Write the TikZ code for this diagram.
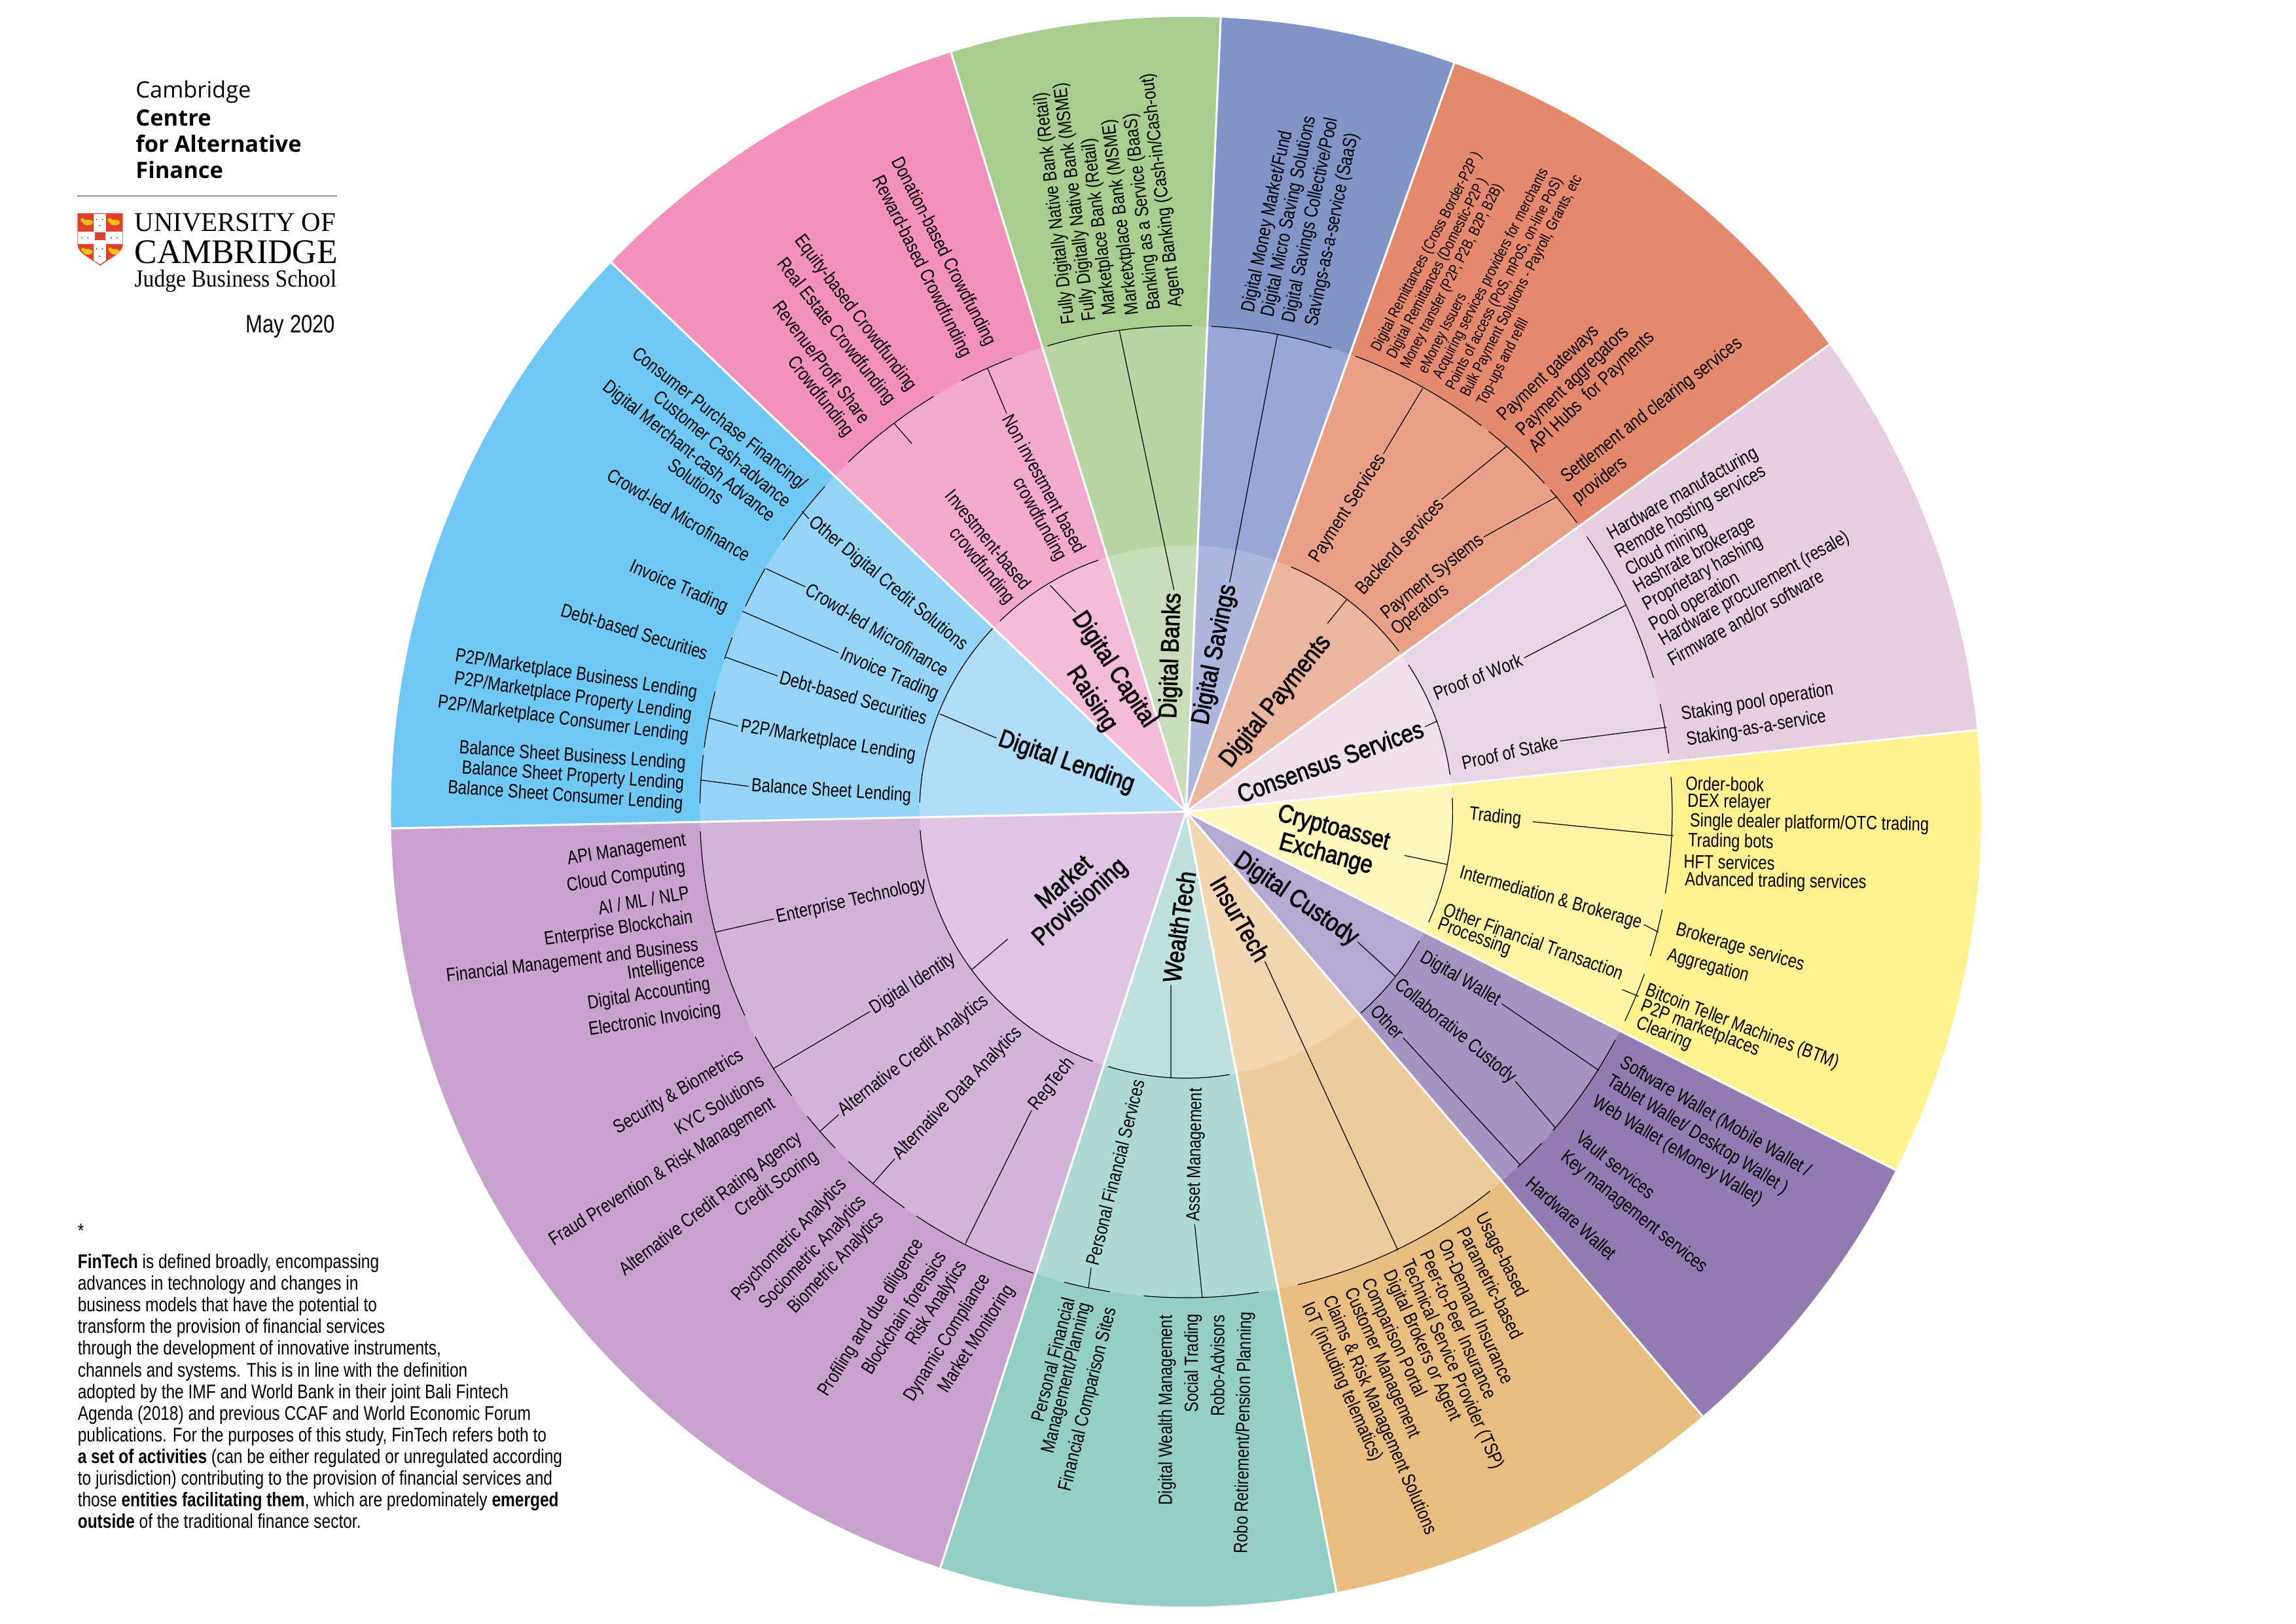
\documentclass[tikz,border=0pt]{standalone}
\usepackage{fontspec}
\setmainfont{Liberation Sans}[FakeStretch=0.81]
\newfontfamily\headfont{Liberation Sans}[FakeStretch=0.85,FakeBold=2]
\newfontfamily\logosans{Open Sans}
\newfontfamily\logoserifa{Liberation Serif}[FakeStretch=0.985]
\newfontfamily\logoserifb{Liberation Serif}[FakeStretch=0.98]
\newfontfamily\logoserifc{Liberation Serif}[FakeStretch=0.895]
\newcommand{\ptsize}[2]{\fontsize{#1}{#2}\selectfont}

% Farben der Ringe: aussen, Mitte, innen
\definecolor{capOut}{HTML}{F291BC}\definecolor{capMid}{HTML}{F3A8CE}\definecolor{capIn}{HTML}{F5BBDB}
\definecolor{bankOut}{HTML}{A9CC8F}\definecolor{bankMid}{HTML}{B9D5A3}\definecolor{bankIn}{HTML}{C9DDBA}
\definecolor{savOut}{HTML}{8193C7}\definecolor{savMid}{HTML}{99A7D6}\definecolor{savIn}{HTML}{AEB6DD}
\definecolor{payOut}{HTML}{E5896E}\definecolor{payMid}{HTML}{E9A086}\definecolor{payIn}{HTML}{EDB49E}
\definecolor{consOut}{HTML}{E6CDE0}\definecolor{consMid}{HTML}{E9D5E6}\definecolor{consIn}{HTML}{EFE0EC}
\definecolor{cryOut}{HTML}{FFF28F}\definecolor{cryMid}{HTML}{FFF4A3}\definecolor{cryIn}{HTML}{FFF7BC}
\definecolor{cusOut}{HTML}{917BB1}\definecolor{cusMid}{HTML}{A594C1}\definecolor{cusIn}{HTML}{B6A9D1}
\definecolor{insOut}{HTML}{E9BD80}\definecolor{insMid}{HTML}{EDCA9A}\definecolor{insIn}{HTML}{F2D6B0}
\definecolor{wealOut}{HTML}{95CEC7}\definecolor{wealMid}{HTML}{ACD9D3}\definecolor{wealIn}{HTML}{BFE1DE}
\definecolor{markOut}{HTML}{C8A3CD}\definecolor{markMid}{HTML}{D2B4D8}\definecolor{markIn}{HTML}{DEC5E3}
\definecolor{lendOut}{HTML}{70C8F4}\definecolor{lendMid}{HTML}{94D4F7}\definecolor{lendIn}{HTML}{AFDDF8}
\definecolor{crestRed}{HTML}{E2402B}\definecolor{crestGold}{HTML}{F2C21B}

\tikzset{
	lab/.style={font=\ptsize{8.3}{9.4}, inner sep=1pt},
	labsm/.style={font=\ptsize{6.65}{8}, inner sep=1pt},
	head/.style={font=\headfont\ptsize{11}{12}, inner sep=1pt},
	leader/.style={line width=0.35pt, black},
	spoke/.style={line width=0.9pt, white},
	logoline/.style={anchor=west, inner sep=0pt}
}

% wedge: von Winkel #1 bis #2, Radius #3, Farbe #4
\newcommand{\wedgefill}[4]{\fill[#4] (C) -- ([shift={({-(#1)}:#3)}]C) arc[start angle={-(#1)},end angle={-(#2)},radius=#3] -- cycle;}
\newcommand{\ringwedge}[5]{\wedgefill{#1}{#2}{543}{#3}\wedgefill{#1}{#2}{332}{#4}\wedgefill{#1}{#2}{182}{#5}}
\newcommand{\spokeline}[1]{\draw[spoke] (C) -- ([shift={({-(#1)}:543)}]C);}
\newcommand{\bracket}[3]{\draw[leader] ([shift={({-(#2)}:#1)}]C) arc[start angle={-(#2)},end angle={-(#3)},radius=#1];}

\begin{document}
\begin{tikzpicture}[x=0.22372mm, y=-0.22372mm]
	\useasboundingbox (0,0) rectangle (1568,1109);
	\coordinate (C) at (810,554.5);

	% --- 1. Ringe ---
	\ringwedge{252}{181.2}{markOut}{markMid}{markIn}
	\ringwedge{181.2}{136.3}{lendOut}{lendMid}{lendIn}
	\ringwedge{136.3}{107.2}{capOut}{capMid}{capIn}
	\ringwedge{107.2}{87.5}{bankOut}{bankMid}{bankIn}
	\ringwedge{87.5}{70.3}{savOut}{savMid}{savIn}
	\ringwedge{70.3}{36}{payOut}{payMid}{payIn}
	\ringwedge{36}{5.9}{consOut}{consMid}{consIn}
	\ringwedge{5.9}{-26.8}{cryOut}{cryMid}{cryIn}
	\ringwedge{-26.8}{-49.5}{cusOut}{cusMid}{cusIn}
	\ringwedge{-49.5}{-79.1}{insOut}{insMid}{insIn}
	\ringwedge{-79.1}{-108}{wealOut}{wealMid}{wealIn}

	\spokeline{252}\spokeline{181.2}\spokeline{136.3}\spokeline{107.2}
	\spokeline{87.5}\spokeline{70.3}\spokeline{36}\spokeline{5.9}
	\spokeline{-26.8}\spokeline{-49.5}\spokeline{-79.1}

	% --- 2. Boegen an den Ringgrenzen ---
	\bracket{182}{134.3}{109.2}
	\bracket{182}{66.8}{37}
	\bracket{182}{33.5}{8}
	\bracket{182}{3}{-24.5}
	\bracket{182}{-29}{-49}
	\bracket{182}{-80.6}{-107}
	\bracket{182}{249.5}{184}
	\bracket{182}{178}{136.5}

	\bracket{332}{134}{121.3}
	\bracket{332}{117.5}{111}
	\bracket{332}{106.6}{89.3}
	\bracket{332}{87}{72.6}
	\bracket{332}{69.6}{52.6}
	\bracket{332}{51.5}{42.5}
	\bracket{332}{41.5}{36.5}
	\bracket{332}{34.5}{16}
	\bracket{332}{12.8}{6.9}
	\bracket{332}{4.1}{-9.7}
	\bracket{332}{-11.6}{-17.3}
	\bracket{332}{-19.5}{-25.5}
	\bracket{332}{-28}{-41}
	\bracket{332}{-43}{-47}
	\bracket{332}{-51.3}{-76.7}
	\bracket{332}{-81.4}{-95}
	\bracket{332}{-99}{-104.5}
	\bracket{332}{251.7}{236.3}
	\bracket{332}{234.6}{226}
	\bracket{332}{223.8}{218.8}
	\bracket{332}{215.8}{207.6}
	\bracket{332}{204.8}{182.3}
	\bracket{332}{179}{173.3}
	\bracket{332}{172.4}{165.7}
	\bracket{332}{161.7}{159}
	\bracket{332}{155}{150}
	\bracket{332}{146}{138}

	% --- 3. Innerer Ring ---
	\node[head,rotate=-56.5] (capA) at (760.6,457.6) {Digital Capital};
	\node[head,rotate=-56.5] (capB) at (745.3,477.5) {Raising};
	\node[head,rotate=88] (bankHead) at (800.2,447.9) {Digital Banks};
	\node[head,rotate=78.7] (savHead) at (829.9,447.2) {Digital Savings};
	\node[head,rotate=51.3] (payHead) at (871.4,479.2) {Digital Payments};
	\node[head,rotate=20] (consHead) at (908.4,520) {Consensus Services};
	\node[head,rotate=-15] (cryA) at (910.6,566.3) {Cryptoasset};
	\node[head,rotate=-15] (cryB) at (905.4,584) {Exchange};
	\node[head,rotate=-34.6] (cusHead) at (885,614.4) {Digital Custody};
	\node[head,rotate=-60] (insHead) at (847,627.6) {InsurTech};
	\node[head,rotate=82] (wealHead) at (805.2,633.1) {WealthTech};
	\node[head,rotate=41.5] (markA) at (726,602) {Market};
	\node[head,rotate=42] (markB) at (737.9,616.7) {Provisioning};
	\node[head,rotate=-19.3] (lendHead) at (728.2,520.9) {Digital Lending};

	% --- 4. Mittlerer Ring ---
	\node[lab,rotate=-61.5] (capM1) at (713.4,330.4) {Non investment based};
	\node[lab,rotate=-61] (capM2) at (709.7,355) {crowdfunding};
	\node[lab,rotate=-50.6] (capM3) at (675.2,368.7) {Investment-based};
	\node[lab,rotate=-51] (capM4) at (670.4,386.8) {crowdfunding};
	\node[lab,rotate=57.3] (payM1) at (920.7,347.4) {Payment Services};
	\node[lab,rotate=47.7] (payM2) at (955.6,373) {Backend services};
	\node[lab,rotate=38.5] (payM3) at (978.6,394.4) {Payment Systems};
	\node[lab,rotate=40] (payM4) at (970.4,416.9) {Operators};
	\node[lab,rotate=22] (consM1) at (1009.2,462.2) {Proof of Work};
	\node[lab,rotate=12.7] (consM2) at (1031.1,513.9) {Proof of Stake};
	\node[lab,rotate=-6] (cryM1) at (1021.1,558.4) {Trading};
	\node[lab,rotate=-15.7] (cryM2) at (1058.9,613.7) {Intermediation \& Brokerage};
	\node[lab,rotate=-20] (cryM3) at (1047.4,642.9) {Other Financial Transaction};
	\node[lab,rotate=-20] (cryM4) at (1007,640.4) {Processing};
	\node[lab,rotate=-30.7] (cusM1) at (997.4,668.9) {Digital Wallet};
	\node[lab,rotate=-39.7] (cusM2) at (993.7,704.5) {Collaborative Custody};
	\node[lab,rotate=-46] (cusM3) at (947.7,698) {Other};
	\node[lab,rotate=89] (wealM1) at (816.7,788.9) {Asset Management};
	\node[lab,rotate=75.8] (wealM2) at (761.6,801) {Personal Financial Services};
	\node[lab,rotate=12.9] (markM1) at (581.4,615.6) {Enterprise Technology};
	\node[lab,rotate=32.6] (markM2) at (623.7,672.1) {Digital Identity};
	\node[lab,rotate=38] (markM3) at (624,721.4) {Alternative Credit Analytics};
	\node[lab,rotate=46] (markM4) at (654.1,747) {Alternative Data Analytics};
	\node[lab,rotate=51.6] (markM5) at (718.6,740.7) {RegTech};
	\node[lab,rotate=-39.5] (lendM1) at (606.3,398.8) {Other Digital Credit Solutions};
	\node[lab,rotate=-30.9] (lendM2) at (599.2,430.3) {Crowd-led Microfinance};
	\node[lab,rotate=-23.3] (lendM3) at (607.4,461) {Invoice Trading};
	\node[lab,rotate=-15.8] (lendM4) at (582.9,476.4) {Debt-based Securities};
	\node[lab,rotate=-9.6] (lendM5) at (565.5,506.5) {P2P/Marketplace Lending};
	\node[lab,rotate=-3.6] (lendM6) at (567.7,540.7) {Balance Sheet Lending};

	% --- 5. Aeusserer Ring ---
	% Digital Capital Raising
	\node[lab,rotate=-63] (capO1) at (644.1,172) {Donation-based Crowdfunding};
	\node[lab,rotate=-63.5] (capO2) at (629.3,182.2) {Reward-based Crowdfunding};
	\node[lab,rotate=-53] (capO3) at (584,214) {Equity-based Crowdfunding};
	\node[lab,rotate=-52] (capO4) at (570.7,226.7) {Real Estate Crowdfunding};
	\node[lab,rotate=-53] (capO5) at (561.4,247.2) {Revenue/Profit Share};
	\node[lab,rotate=-52] (capO6) at (560,271.2) {Crowdfunding};
	% Digital Banks
	\node[lab,rotate=97] (bankO1) at (720.7,142.3) {Fully Digitally Native Bank (Retail)};
	\node[lab,rotate=97] (bankO2) at (734.6,137.8) {Fully Digitally Native Bank (MSME)};
	\node[lab,rotate=97] (bankO3) at (751.2,155) {Marketplace Bank (Retail)};
	\node[lab,rotate=97] (bankO4) at (765.8,148.3) {Marketxtplace Bank (MSME)};
	\node[lab,rotate=97] (bankO5) at (780.7,144.8) {Banking as a Service (BaaS)};
	\node[lab,rotate=97] (bankO6) at (793.7,130) {Agent Banking (Cash-in/Cash-out)};
	% Digital Savings
	\node[lab,rotate=78] (savO1) at (865.9,151.4) {Digital Money Market/Fund};
	\node[lab,rotate=78] (savO2) at (880.7,147.9) {Digital Micro Saving Solutions};
	\node[lab,rotate=78] (savO3) at (895.5,150.4) {Digital Savings Collective/Pool};
	\node[lab,rotate=78] (savO4) at (910.3,156.8) {Savings-as-a-service (SaaS)};
	% Digital Payments
	\node[labsm,rotate=62.7] (payO1) at (974.5,172.1) {Digital Remittances (Cross Border-P2P )};
	\node[labsm,rotate=62.7] (payO2) at (981.9,183.3) {Digital Remittances (Domestic-P2P )};
	\node[labsm,rotate=62.7] (payO3) at (991.9,188.8) {Money transfer (P2P, P2B, B2P, B2B)};
	\node[labsm,rotate=62.7] (payO4) at (985.7,228) {eMoney Issuers};
	\node[labsm,rotate=62.7] (payO5) at (1018.4,187) {Acquiring services providers for merchants};
	\node[labsm,rotate=62.7] (payO6) at (1027.7,194) {Points of access (PoS, mPoS, on-line PoS)};
	\node[labsm,rotate=62.7] (payO7) at (1039.3,195.5) {Bulk Payment Solutions - Payroll, Grants, etc};
	\node[labsm,rotate=62.7] (payO8) at (1026.6,247.3) {Top-ups and refill};
	\node[lab,rotate=43] (payO9) at (1057.9,255.5) {Payment gateways};
	\node[lab,rotate=44] (payO10) at (1074.6,260.8) {Payment aggregators};
	\node[lab,rotate=44] (payO11) at (1087.5,267.9) {API Hubs\ \ for Payments};
	\node[lab,rotate=38] (payO12) at (1128.3,280.4) {Settlement and clearing services};
	\node[lab,rotate=38] (payO13) at (1093,328.5) {providers};
	% Consensus Services
	\node[lab,rotate=29.4] (consO1) at (1149.4,337.5) {Hardware manufacturing};
	\node[lab,rotate=29.4] (consO2) at (1154.9,350) {Remote hosting services};
	\node[lab,rotate=29.4] (consO3) at (1138.2,375.6) {Cloud mining};
	\node[lab,rotate=29.4] (consO4) at (1157.5,379.2) {Hashrate brokerage};
	\node[lab,rotate=29.4] (consO5) at (1163.1,391.7) {Proprietary hashing};
	\node[lab,rotate=29.4] (consO6) at (1157.5,411.3) {Pool operation};
	\node[lab,rotate=29.4] (consO7) at (1198.3,402.4) {Hardware procurement (resale)};
	\node[lab,rotate=29.4] (consO8) at (1192,422) {Firmware and/or software};
	\node[lab,rotate=9.6] (consO9) at (1200.1,480) {Staking pool operation};
	\node[lab,rotate=9.6] (consO10) at (1199.4,497.8) {Staking-as-a-service};
	% Cryptoasset Exchange
	\node[lab,rotate=-1] (cryO1) at (1177.9,535.6) {Order-book};
	\node[lab,rotate=-1] (cryO2) at (1180.9,548.4) {DEX relayer};
	\node[lab,rotate=-1] (cryO3) at (1235.7,562.7) {Single dealer platform/OTC trading};
	\node[lab,rotate=-1] (cryO4) at (1182,575.5) {Trading bots};
	\node[lab,rotate=-1] (cryO5) at (1180.9,589) {HFT services};
	\node[lab,rotate=-1] (cryO6) at (1212.7,602.6) {Advanced trading services};
	\node[lab,rotate=-15.7] (cryO7) at (1188.3,647.5) {Brokerage services};
	\node[lab,rotate=-15] (cryO8) at (1166.4,660) {Aggregation};
	\node[lab,rotate=-21] (cryO9) at (1189.7,701.7) {Bitcoin Teller Machines (BTM)};
	\node[lab,rotate=-21] (cryO10) at (1161.2,702.7) {P2P marketplaces};
	\node[lab,rotate=-22] (cryO11) at (1136.4,706.3) {Clearing};
	% Digital Custody
	\node[lab,rotate=-30.5] (cusO1) at (1171.4,763.4) {Software Wallet (Mobile Wallet /};
	\node[lab,rotate=-31.7] (cusO2) at (1159.2,775.4) {Tablet Wallet/ Desktop Wallet )};
	\node[lab,rotate=-31] (cusO3) at (1145.5,786.4) {Web Wallet (eMoney Wallet)};
	\node[lab,rotate=-39] (cusO4) at (1103.6,795.5) {Vault services};
	\node[lab,rotate=-38.8] (cusO5) at (1115.8,828.3) {Key management services};
	\node[lab,rotate=-41.9] (cusO6) at (1073.2,832) {Hardware Wallet};
	% InsurTech
	\node[lab,rotate=-63] (insO1) at (1025,857.5) {Usage-based};
	\node[lab,rotate=-63] (insO2) at (1018,876.5) {Parametric-based};
	\node[lab,rotate=-65.7] (insO3) at (1008.3,895.8) {On-Demand Insurance};
	\node[lab,rotate=-65.7] (insO4) at (996.1,905) {Peer-to-Peer Insurance};
	\node[lab,rotate=-66] (insO5) at (991.6,932.3) {Technical Service Provider (TSP)};
	\node[lab,rotate=-65.5] (insO6) at (970.9,919.5) {Digital Brokers or Agent};
	\node[lab,rotate=-65] (insO7) at (951.6,914.1) {Comparison Portal};
	\node[lab,rotate=-66] (insO8) at (943.5,931.2) {Customer Management};
	\node[lab,rotate=-66.4] (insO9) at (942,967) {Claims \& Risk Management Solutions};
	\node[lab,rotate=-66] (insO10) at (916.4,944) {IoT (including telematics)};
	% WealthTech
	\node[lab,rotate=75.6] (wealO1) at (719,928.7) {Personal Financial};
	\node[lab,rotate=76] (wealO2) at (729,941.4) {Management/Planning};
	\node[lab,rotate=76] (wealO3) at (743.4,956) {Financial Comparison Sites};
	\node[lab,rotate=90] (wealO4) at (797,963.3) {Digital Wealth Management};
	\node[lab,rotate=90] (wealO5) at (814.8,931.2) {Social Trading};
	\node[lab,rotate=90] (wealO6) at (831.5,933) {Robo-Advisors};
	\node[lab,rotate=89] (wealO7) at (849.7,978.7) {Robo Retirement/Pension Planning};
	% Market Provisioning
	\node[lab,rotate=9] (markO1) at (428,581) {API Management};
	\node[lab,rotate=9] (markO2) at (427.6,599.2) {Cloud Computing};
	\node[lab,rotate=10] (markO3) at (439.5,614.9) {AI / ML / NLP};
	\node[lab,rotate=8.5] (markO4) at (422.4,634.9) {Enterprise Blockchain};
	\node[lab,rotate=7.1] (markO5) at (390.9,656.8) {Financial Management and Business};
	\node[lab,rotate=9] (markO6) at (455,661.2) {Intelligence};
	\node[lab,rotate=9] (markO7) at (443.2,679.4) {Digital Accounting};
	\node[lab,rotate=9] (markO8) at (447.2,697) {Electronic Invoicing};
	\node[lab,rotate=31] (markO9) at (463.6,746.2) {Security \& Biometrics};
	\node[lab,rotate=31] (markO10) at (491,754.2) {KYC Solutions};
	\node[lab,rotate=32] (markO11) at (452.4,801) {Fraud Prevention \& Risk Management};
	\node[lab,rotate=37.4] (markO12) at (485.8,822.8) {Alternative Credit Rating Agency};
	\node[lab,rotate=36.5] (markO13) at (530.7,809) {Credit Scoring};
	\node[lab,rotate=47] (markO14) at (539.2,847.3) {Psychometric Analytics};
	\node[lab,rotate=47] (markO15) at (555.5,855.7) {Sociometric Analytics};
	\node[lab,rotate=47] (markO16) at (571.4,863) {Biometric Analytics};
	\node[lab,rotate=58] (markO17) at (595.2,900.2) {Profiling and due diligence};
	\node[lab,rotate=57.6] (markO18) at (617,896.6) {Blockchain forensics};
	\node[lab,rotate=57] (markO19) at (640,890.4) {Risk Analytics};
	\node[lab,rotate=58] (markO20) at (647.4,914.1) {Dynamic Compliance};
	\node[lab,rotate=57] (markO21) at (667.1,914.8) {Market Monitoring};
	% Digital Lending
	\node[lab,rotate=-38.4] (lendO1) at (491,286.6) {Consumer Purchase Financing/};
	\node[lab,rotate=-39.6] (lendO2) at (493.6,306.4) {Customer Cash-advance};
	\node[lab,rotate=-38.5] (lendO3) at (470.2,308.8) {Digital Merchant-cash Advance};
	\node[lab,rotate=-36] (lendO4) at (475.4,328.6) {Solutions};
	\node[lab,rotate=-30.7] (lendO5) at (463.6,351.6) {Crowd-led Microfinance};
	\node[lab,rotate=-23.5] (lendO6) at (463.6,401.2) {Invoice Trading};
	\node[lab,rotate=-16.8] (lendO7) at (433.5,431.3) {Debt-based Securities};
	\node[lab,rotate=-8.7] (lendO8) at (393.5,461) {P2P/Marketplace Business Lending};
	\node[lab,rotate=-8.7] (lendO9) at (391.3,476.4) {P2P/Marketplace Property Lending};
	\node[lab,rotate=-7.7] (lendO10) at (384.6,491.8) {P2P/Marketplace Consumer Lending};
	\node[lab,rotate=-4] (lendO11) at (390.9,516.8) {Balance Sheet Business Lending};
	\node[lab,rotate=-4] (lendO12) at (391.3,530.5) {Balance Sheet Property Lending};
	\node[lab,rotate=-4] (lendO13) at (386.1,544.2) {Balance Sheet Consumer Lending};

	% --- 6. Fuehrungslinien ---
	\coordinate (capS1) at (622.6,303);
	\coordinate (capE1) at (610.7,289.3);
	\coordinate (cryS1) at (959.2,584.4);
	\coordinate (cryE1) at (988.1,590.5);
	\coordinate (cryS2) at (1046.7,561.3);
	\coordinate (cryE2) at (1142.7,570.9);
	\coordinate (cryS3) at (1107.8,676);
	\coordinate (cryE3) at (1119,680.6);
	\coordinate (markS1) at (688.2,641.5);
	\coordinate (markE1) at (663.7,662.3);
	\coordinate (payS1) at (906.6,425.8);
	\coordinate (payE1) at (919.6,409.7);

	\draw[leader] (capA.west) -- (717.1,399.8);
	\draw[leader] (capM1.west) -- (674.5,251.7);
	\draw[leader] (capS1) -- (capE1);
	\draw[leader] (bankHead.east) -- (764.3,225.2);
	\draw[leader] (savHead.east) -- (872.5,228);
	\draw[leader] (payS1) -- (payE1);
	\draw[leader] (payM1.east) -- (971.5,265.4);
	\draw[leader] (payM2.east) -- (1029.3,304.6);
	\draw[leader] (payM3.east) -- (1063.4,339.2);
	\draw[leader] (consHead.east) -- (981.8,492.5);
	\draw[leader] (consM1.east) -- (1110.4,413.4);
	\draw[leader] (consM2.east) -- (1138.2,496.8);
	\draw[leader] (cryS1) -- (cryE1);
	\draw[leader] (cryS2) -- (cryE2);
	\draw[leader] (cryM2.east) -- (1132.7,636.8);
	\draw[leader] (cryS3) -- (cryE3);
	\draw[leader] (cusHead.east) -- (952.9,667);
	\draw[leader] (cusM1.east) -- (1091.9,731.2);
	\draw[leader] (cusM2.east) -- (1062.2,770.4);
	\draw[leader] (cusM3.east) -- (1038,795.5);
	\draw[leader] (insHead.east) -- (954.6,853.9);
	\draw[leader] (wealHead.west) -- (799.6,736.4);
	\draw[leader] (wealM1.west) -- (821.1,886.7);
	\draw[leader] (wealM2.west) -- (743.4,879.4);
	\draw[leader] (markS1) -- (markE1);
	\draw[leader] (markM1.west) -- (488.8,636.7);
	\draw[leader] (markM2.west) -- (528.4,729.8);
	\draw[leader] (markM3.west) -- (560.3,772.5);
	\draw[leader] (markM4.west) -- (596.3,808.3);
	\draw[leader] (markM5.west) -- (659.3,849.5);
	\draw[leader] (lendHead.west) -- (641.9,487.7);
	\draw[leader] (lendM1.west) -- (547.7,349.2);
	\draw[leader] (lendM2.west) -- (523.2,388.5);
	\draw[leader] (lendM3.west) -- (507,417.6);
	\draw[leader] (lendM4.west) -- (495.8,449);
	\draw[leader] (lendM5.west) -- (484.3,490.5);
	\draw[leader] (lendM6.west) -- (478.8,532.9);

	% --- 7. Logo ---
	\node[logoline,font=\logosans\ptsize{9.8}{11}] (logoA) at (92.4,62.8) {Cambridge};
	\node[logoline,font=\logosans\bfseries\ptsize{9.8}{11}] (logoB) at (92.4,80.4) {Centre};
	\node[logoline,font=\logosans\bfseries\ptsize{9.8}{11}] (logoC) at (92.4,98.3) {for Alternative};
	\node[logoline,font=\logosans\bfseries\ptsize{9.8}{11}] (logoD) at (92.4,116.2) {Finance};
	\draw[line width=0.4pt, black!80] (52.9,133.8) -- (230.2,133.8);

	\fill[crestRed] (52.9,145.7) -- (83.9,145.7) -- (83.9,167) .. controls (83.9,173) and (74,177) .. (68.4,181.5) .. controls (62.8,177) and (52.9,173) .. (52.9,167) -- cycle;
	\fill[white] (64,146.2) -- (72.3,146.2) -- (72.3,177.8) -- (68.4,180.6) -- (64,177.8) -- cycle;
	\fill[white] (53.3,158.2) rectangle (83.5,166.9);
	\fill[crestRed] (64.8,158.7) rectangle (71.8,164.2);
	\fill[crestGold] (60,152) ellipse [x radius=3.4, y radius=2];
	\fill[crestGold] (56.5,150.5) circle [radius=1.5];
	\fill[crestGold] (78.5,152) ellipse [x radius=3.4, y radius=2];
	\fill[crestGold] (75,150.5) circle [radius=1.5];
	\fill[crestGold] (60,172) ellipse [x radius=3.2, y radius=1.9];
	\fill[crestGold] (56.8,170.5) circle [radius=1.4];
	\fill[crestGold] (78.5,172) ellipse [x radius=3.2, y radius=1.9];
	\fill[crestGold] (75.3,170.5) circle [radius=1.4];
	\fill[black] (66,150) circle [radius=0.4];
	\fill[black] (70,150) circle [radius=0.4];
	\fill[black] (68,154) circle [radius=0.4];
	\fill[black] (56,162.5) circle [radius=0.4];
	\fill[black] (60,162.5) circle [radius=0.4];
	\fill[black] (76,162.5) circle [radius=0.4];
	\fill[black] (80,162.5) circle [radius=0.4];
	\fill[black] (66,170) circle [radius=0.4];
	\fill[black] (70,170) circle [radius=0.4];
	\fill[black] (68,175) circle [radius=0.4];

	\node[logoline,font=\logoserifa\ptsize{11.8}{12}] (logoE) at (91.6,152) {UNIVERSITY OF};
	\node[logoline,font=\logoserifb\ptsize{15}{16}] (logoF) at (91.6,172) {CAMBRIDGE};
	\node[logoline,font=\logoserifc\ptsize{10.7}{12}] (logoG) at (91.6,192.2) {Judge Business School};
	\node[anchor=east,inner sep=0pt,font=\ptsize{10.9}{12}] (dateLabel) at (229.2,223.2) {May 2020};

	% --- 8. Fussnote ---
	\node[logoline,font=\ptsize{8.6}{9.4}] (star) at (52.8,840.6) {*};
	\node[anchor=north west,inner sep=0pt,align=left,font=\ptsize{8.6}{9.4}] (note) at (52.8,856.5) {%
		\textbf{FinTech} is defined broadly, encompassing\\
		advances in technology and changes in\\
		business models that have the potential to\\
		transform the provision of financial services\\
		through the development of innovative instruments,\\
		channels and systems. This is in line with the definition\\
		adopted by the IMF and World Bank in their joint Bali Fintech\\
		Agenda (2018) and previous CCAF and World Economic Forum\\
		publications. For the purposes of this study, FinTech refers both to\\
		\textbf{a set of activities} (can be either regulated or unregulated according\\
		to jurisdiction) contributing to the provision of financial services and\\
		those \textbf{entities facilitating them}, which are predominately \textbf{emerged}\\
		\textbf{outside} of the traditional finance sector.};
\end{tikzpicture}
\end{document}
